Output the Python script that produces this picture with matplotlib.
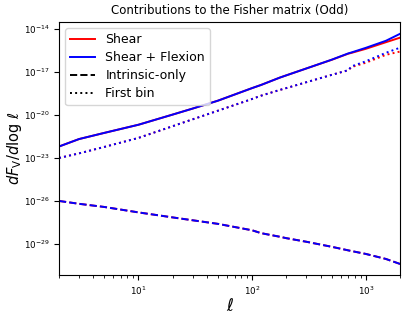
import numpy as np
import matplotlib
matplotlib.use("Agg")
import matplotlib.pyplot as plt
import matplotlib.ticker as mticker

# multipoles and log10 of dF/dlog l
ell = [2, 3, 5, 10, 20, 30, 50, 100, 120, 175, 200, 300, 500, 700, 750, 1000, 1500, 2000]

shear_flex = [-22.2, -21.68, -21.25, -20.68, -19.97, -19.55, -19.0, -18.12, -17.9, -17.39,
              -17.23, -16.75, -16.14, -15.7, -15.63, -15.31, -14.82, -14.33]
shear = [-22.2, -21.68, -21.25, -20.68, -19.97, -19.55, -19.0, -18.12, -17.9, -17.39,
         -17.23, -16.75, -16.15, -15.72, -15.66, -15.38, -14.92, -14.6]

first_bin_flex = [-23.0, -22.68, -22.23, -21.6, -20.78, -20.3, -19.7, -18.88, -18.65, -18.25,
                  -18.12, -17.71, -17.2, -16.87, -16.6, -16.25, -15.66, -15.3]
first_bin_shear = [-23.0, -22.68, -22.23, -21.6, -20.78, -20.3, -19.7, -18.88, -18.65, -18.25,
                   -18.12, -17.71, -17.2, -16.88, -16.65, -16.35, -15.8, -15.57]

intrinsic = [-26.0, -26.2, -26.42, -26.8, -27.15, -27.35, -27.6, -28.05, -28.25, -28.5,
             -28.6, -28.85, -29.2, -29.45, -29.5, -29.7, -30.05, -30.4]

ytick_exp = [-29, -26, -23, -20, -17, -14]

fig = plt.figure(figsize=(4.07, 3.17), dpi=100)
ax = fig.add_axes([0.145, 0.1325, 0.838, 0.798])

lw = 1.4
ax.plot(ell, 10**np.array(shear), color="red", lw=lw, label="Shear")
ax.plot(ell, 10**np.array(shear_flex), color="blue", lw=lw, label="Shear + Flexion")
ax.plot(ell, 10**np.array(intrinsic), color="red", lw=lw, ls="--")
ax.plot(ell, 10**np.array(intrinsic), color="blue", lw=lw, ls="--")
ax.plot(ell, 10**np.array(first_bin_shear), color="red", lw=lw, ls=":")
ax.plot(ell, 10**np.array(first_bin_flex), color="blue", lw=lw, ls=":")

# black proxies for the line-style entries
ax.plot([], [], color="black", lw=lw, ls="--", label="Intrinsic-only")
ax.plot([], [], color="black", lw=lw, ls=":", label="First bin")

ax.set_xscale("log")
ax.set_yscale("log")
ax.set_xlim(2, 2000)
ax.set_ylim(10**-31.17, 10**-13.51)
ax.set_yticks([10.0**e for e in ytick_exp])
ax.yaxis.set_minor_locator(mticker.NullLocator())
ax.tick_params(labelsize=6.3)

ax.set_title("Contributions to the Fisher matrix (Odd)", fontsize=8.5)
ax.set_xlabel(r"$\ell$", fontsize=12, labelpad=0)
ax.set_ylabel(r"$dF_{\rm V}/d\log\,\ell$", fontsize=10.5, labelpad=0)
ax.legend(loc="upper left", fontsize=9, labelspacing=0.4)

fig.savefig("out.png", dpi=100)
